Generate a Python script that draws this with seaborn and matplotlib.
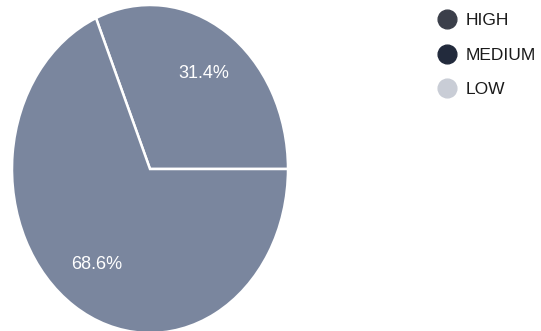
import matplotlib
matplotlib.use("Agg")
import matplotlib.pyplot as plt
from matplotlib.lines import Line2D
import seaborn as sns

# data
slice_labels = ["31.4%", "68.6%"]
slice_values = [31.4, 68.6]
legend_labels = ["HIGH", "MEDIUM", "LOW"]
legend_colors = ["#3b3f4a", "#222a3c", "#c9cdd6"]
pie_color = "#7a869e"

sns.set_theme(style="white")
plt.rcParams["font.family"] = ["Liberation Sans", "DejaVu Sans"]

fig = plt.figure(figsize=(5.41, 3.31), dpi=100)
W, H = 541, 331
# pie drawn as a slight ellipse, like the scanned original
ax = fig.add_axes([12 / W, -2 / H, 276 / W, 328 / H])

wedges, texts, autotexts = ax.pie(
    slice_values,
    colors=[pie_color] * len(slice_values),
    startangle=0,
    counterclock=True,
    autopct="%.1f%%",
    pctdistance=0.7,
    wedgeprops=dict(edgecolor="white", linewidth=1.8),
    textprops=dict(color="white", fontsize=13),
)
ax.set_aspect("auto")
ax.set_xlim(-1, 1)
ax.set_ylim(-1, 1)
ax.axis("off")

handles = [
    Line2D([], [], marker="o", linestyle="none", markersize=13.5,
           markerfacecolor=c, markeredgecolor=c)
    for c in legend_colors
]
leg = fig.legend(handles, legend_labels, loc="upper left",
                 bbox_to_anchor=(430 / W, 1 - 13 / H), frameon=False,
                 fontsize=12.5, handletextpad=0.05, labelspacing=1.12,
                 borderaxespad=0, borderpad=0)
for t in leg.get_texts():
    t.set_color("#1a1a1a")

fig.savefig("out.png", dpi=100)
plt.close(fig)
